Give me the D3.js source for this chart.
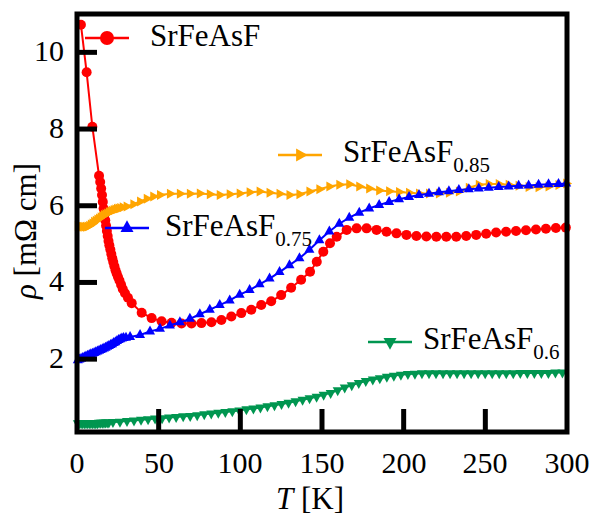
<!DOCTYPE html>
<html><head><meta charset="utf-8"><script src="https://cdn.jsdelivr.net/npm/d3@7"></script>
<style>
  body { margin: 0; background: #fff; }
  #container { position: relative; width: 595px; height: 516px; overflow: hidden; }
  #container svg { position: absolute; left: 0; top: 0; }
  .lbl { position: absolute; white-space: nowrap; font-family: "Liberation Serif"; font-size: 26px;
         line-height: 26px; color: #000; transform-origin: 0 0; }
  .lbl .sub { position: relative; line-height: 0; }
</style>
</head>
<body>
<div id="container"></div>
<script>
const width = 595, height = 516;
const margin = { left: 77, right: 28, top: 14, bottom: 84 };

// SrFeAsF (red circles)
const redT = [2.4, 5.9, 9.4, 13.5, 14.2, 14.8, 15.3, 15.8, 16.3, 16.8, 17.3, 17.8, 18.3, 18.8, 19.3, 19.8, 20.4, 21.0, 21.6, 22.2, 22.9, 23.6, 24.3, 25.1, 26.0, 27.0, 28.0, 29.4, 31.2,
  33.5, 39.6, 45.7, 51.8, 57.9, 64.0, 70.1, 76.2, 82.3, 88.4, 94.5, 100.6, 106.7, 112.8, 118.9, 125.0, 131.1, 137.2, 142.7, 146.8, 150.8, 154.9, 159.0, 165.1, 171.2, 177.3,
  183.4, 189.5, 195.6, 201.7, 207.8, 213.9, 220.0, 226.1, 232.2, 238.3, 244.4, 250.5, 256.6, 262.7, 268.8, 274.9, 281.0, 287.1, 293.2, 299.3];
const redRho = [10.72, 9.48, 8.06, 6.78, 6.62, 6.45, 6.28, 6.10, 5.93, 5.78, 5.62, 5.48, 5.34, 5.21, 5.08, 4.97, 4.86, 4.74, 4.63, 4.53, 4.42, 4.32, 4.23, 4.14, 4.05, 3.94, 3.83, 3.72, 3.60,
  3.46, 3.21, 3.07, 2.99, 2.95, 2.93, 2.93, 2.94, 2.96, 3.02, 3.11, 3.20, 3.29, 3.41, 3.51, 3.67, 3.86, 4.07, 4.28, 4.54, 4.80, 5.02, 5.19, 5.37, 5.41, 5.41,
  5.37, 5.32, 5.28, 5.24, 5.21, 5.20, 5.19, 5.19, 5.19, 5.21, 5.24, 5.27, 5.30, 5.32, 5.34, 5.36, 5.38, 5.40, 5.42, 5.43];

// SrFeAsF0.75 (blue up triangles)
const blueT = [0.5, 1.5, 2.5, 3.5, 4.5, 5.5, 6.5, 7.5, 8.5, 9.5, 10.5, 11.5, 12.5, 13.5, 14.5, 15.5, 16.5, 17.5, 18.5, 19.5, 20.5, 21.5, 22.5, 23.5, 24.5, 25.5, 26.5, 27.5, 28.5, 30, 32.5,
  38.6, 44.7, 50.8, 56.9, 63.0, 69.1, 75.2, 81.3, 87.4, 93.5, 99.6, 105.7, 111.8, 117.9, 124.0, 130.1, 136.2, 142.3, 148.4, 154.5, 160.6, 166.7, 172.8, 178.9,
  185.0, 191.1, 197.2, 203.3, 209.4, 215.5, 221.6, 227.7, 233.8, 239.9, 246.0, 252.1, 258.2, 264.3, 270.4, 276.5, 282.6, 288.7, 294.8, 299.5];
const blueRho = [1.97, 1.99, 2.01, 2.03, 2.05, 2.07, 2.09, 2.11, 2.13, 2.14, 2.16, 2.18, 2.20, 2.22, 2.24, 2.26, 2.28, 2.30, 2.32, 2.34, 2.37, 2.39, 2.42, 2.44, 2.47, 2.50, 2.52, 2.54, 2.55, 2.56, 2.58,
  2.63, 2.72, 2.79, 2.88, 2.96, 3.05, 3.17, 3.29, 3.41, 3.53, 3.68, 3.80, 3.95, 4.10, 4.27, 4.45, 4.63, 4.85, 5.10, 5.33, 5.53, 5.69, 5.82, 5.93,
  6.02, 6.10, 6.17, 6.23, 6.28, 6.31, 6.35, 6.38, 6.41, 6.43, 6.45, 6.47, 6.49, 6.50, 6.52, 6.53, 6.55, 6.56, 6.57, 6.58];

// SrFeAsF0.85 (orange right triangles)
const orangeT = [0.5, 1.5, 2.5, 3.5, 4.5, 5.5, 6.5, 7.5, 8.5, 9.5, 10.5, 11.5, 12.5, 13.5, 14.5, 15.5, 16.5, 17.5, 18.5, 19.5, 20.5, 21.5, 22.5, 23.5, 24.5, 25.5, 26.5, 28, 30.4,
  34.5, 38.6, 42.7, 46.7, 50.8, 56.9, 63.0, 69.1, 75.2, 81.3, 87.4, 93.5, 99.6, 105.7, 111.8, 117.9, 124.0, 130.1, 136.2, 142.3, 148.4, 154.5, 160.6, 166.7, 172.8, 178.9,
  185.0, 191.1, 197.2, 203.3, 209.4, 215.5, 221.6, 227.7, 233.8, 239.9, 246.0, 252.1, 258.2, 264.3, 270.4, 276.5, 282.6, 288.7, 294.8, 299.5];
const orangeRho = [5.48, 5.47, 5.46, 5.45, 5.45, 5.45, 5.46, 5.48, 5.51, 5.54, 5.58, 5.61, 5.64, 5.67, 5.70, 5.73, 5.76, 5.78, 5.80, 5.83, 5.85, 5.87, 5.89, 5.90, 5.92, 5.93, 5.94, 5.96, 5.98,
  6.04, 6.11, 6.18, 6.24, 6.28, 6.31, 6.31, 6.31, 6.32, 6.30, 6.28, 6.30, 6.32, 6.35, 6.37, 6.34, 6.31, 6.28, 6.30, 6.37, 6.43, 6.50, 6.55, 6.56, 6.50, 6.45,
  6.40, 6.38, 6.36, 6.34, 6.32, 6.32, 6.32, 6.34, 6.37, 6.47, 6.55, 6.57, 6.57, 6.55, 6.52, 6.49, 6.48, 6.50, 6.54, 6.58];

// SrFeAsF0.6 (green down triangles)
const greenT = [0.5, 1.5, 2.5, 3.5, 4.5, 5.5, 6.5, 7.5, 8.5, 9.5, 10.5, 11.5, 12.5, 13.5, 14.5, 15.5, 16.5, 17.5, 18.5, 19.5,
  22, 26.3, 30.6, 34.9, 39.2, 43.5, 47.8, 52.1, 56.4, 60.7, 65, 69.3, 73.6, 77.9, 82.2, 86.5, 90.8, 95.1, 99.4, 103.7, 108, 112.3, 116.6, 120.9, 125.2, 129.5,
  133.8, 138.1, 142.4, 146.7, 151, 155.3, 159.6, 163.9, 168.2, 172.5, 176.8, 181.1, 185.4, 189.7, 194, 198.3, 202.6, 206.9, 211.2, 215.5, 219.8, 224.1, 228.4,
  232.7, 237, 241.3, 245.6, 249.9, 254.2, 258.5, 262.8, 267.1, 271.4, 275.7, 280, 284.3, 288.6, 292.9, 297.2];
const greenRho = [0.33, 0.33, 0.33, 0.33, 0.33, 0.33, 0.33, 0.33, 0.33, 0.33, 0.33, 0.33, 0.33, 0.34, 0.34, 0.34, 0.34, 0.35, 0.35, 0.35,
  0.36, 0.37, 0.39, 0.40, 0.42, 0.43, 0.45, 0.46, 0.48, 0.49, 0.51, 0.52, 0.54, 0.56, 0.58, 0.60, 0.62, 0.64, 0.66, 0.69, 0.71, 0.74, 0.77, 0.80, 0.83, 0.86,
  0.90, 0.94, 0.98, 1.02, 1.07, 1.12, 1.19, 1.26, 1.32, 1.38, 1.43, 1.47, 1.50, 1.54, 1.57, 1.59, 1.61, 1.62, 1.63, 1.63, 1.63, 1.63, 1.63,
  1.63, 1.63, 1.63, 1.63, 1.63, 1.63, 1.63, 1.63, 1.63, 1.64, 1.64, 1.64, 1.64, 1.64, 1.65, 1.65];

const xTicks = [0, 50, 100, 150, 200, 250, 300];
const yTicks = [2, 4, 6, 8, 10];

const series = [
  { name: "SrFeAsF", sub: null, T: redT, rho: redRho, color: "#ff0000", shape: "circle", legend: [85, 38, 150, 47] },
  { name: "SrFeAsF", sub: "0.85", T: orangeT, rho: orangeRho, color: "#ffa500", shape: "right", legend: [278, 155, 343, 163] },
  { name: "SrFeAsF", sub: "0.75", T: blueT, rho: blueRho, color: "#0000ff", shape: "up", legend: [105, 228, 165, 237] },
  { name: "SrFeAsF", sub: "0.6", T: greenT, rho: greenRho, color: "#009650", shape: "down", legend: [368, 342, 423, 350] }
];

const container = d3.select("#container");
const svg = container.append("svg")
  .attr("width", width).attr("height", height);

const x = d3.scaleLinear().domain([0, 300]).range([margin.left, width - margin.right]);
const y = d3.scaleLinear().domain([0.1, 11.0]).range([height - margin.bottom, margin.top]);

// marker shapes, centred on the point
function marker(shape, s) {
  const h = s * 0.9, w = s;
  let pts;
  if (shape === "up") pts = [[0, -h * 2 / 3], [-w / 2, h / 3], [w / 2, h / 3]];
  if (shape === "down") pts = [[0, h * 2 / 3], [-w / 2, -h / 3], [w / 2, -h / 3]];
  if (shape === "right") pts = [[h * 2 / 3, 0], [-h / 3, -w / 2], [-h / 3, w / 2]];
  return "M" + pts.map(p => p.join(",")).join("L") + "Z";
}

function drawMark(g, shape, color, px, py, s) {
  if (shape === "circle") {
    g.append("circle").attr("cx", px).attr("cy", py).attr("r", s / 2).attr("fill", color);
  } else {
    g.append("path").attr("d", marker(shape, s))
      .attr("transform", `translate(${px},${py})`).attr("fill", color);
  }
}

// Text is laid out at 26px (the serif face is only picked up at that size here)
// and scaled up with a css transform. Baseline sits 21.78px below the box top.
const BASE = 26, BASELINE = 21.78;
function addLabel(html, px, py, size, anchor, rotate) {
  const s = size / BASE;
  const shift = anchor === "middle" ? " translateX(-50%)" : anchor === "end" ? " translateX(-100%)" : "";
  const div = container.append("div").attr("class", "lbl").html(html);
  if (rotate) {
    div.style("left", (px - BASELINE * s) + "px").style("top", py + "px")
      .style("transform", `rotate(-90deg) scale(${s})${shift}`);
  } else {
    div.style("left", px + "px").style("top", (py - BASELINE * s) + "px")
      .style("transform", `scale(${s})${shift}`);
  }
  return div;
}

const line = d3.line().x(d => x(d[0])).y(d => y(d[1]));
const plot = svg.append("g");

series.forEach(s => {
  const pts = s.T.map((t, i) => [t, s.rho[i]]);
  plot.append("path").datum(pts)
    .attr("d", line)
    .attr("fill", "none")
    .attr("stroke", s.color)
    .attr("stroke-width", 2);
  const mg = plot.append("g");
  pts.forEach(p => drawMark(mg, s.shape, s.color, x(p[0]), y(p[1]), 10));
});

// legends
series.forEach(s => {
  const [lx, ly, tx, ty] = s.legend;
  const g = svg.append("g");
  g.append("line").attr("x1", lx).attr("x2", lx + 44).attr("y1", ly).attr("y2", ly)
    .attr("stroke", s.color).attr("stroke-width", 2.5);
  drawMark(g, s.shape, s.color, lx + 22, ly, s.shape === "circle" ? 14 : 13);
  const k = BASE / 31;
  const sub = s.sub ? `<span class="sub" style="font-size:${(21 * k).toFixed(1)}px;top:${(10 * k).toFixed(1)}px">${s.sub}</span>` : "";
  addLabel(s.name + sub, tx, ty, 31, "start");
});

// frame
svg.append("rect")
  .attr("x", x(0)).attr("y", y(11.0))
  .attr("width", x(300) - x(0)).attr("height", y(0.1) - y(11.0))
  .attr("fill", "none").attr("stroke", "#000").attr("stroke-width", 5);

// ticks (inside)
svg.append("g").selectAll("line").data(xTicks.slice(1, -1)).join("line")
  .attr("x1", d => x(d)).attr("x2", d => x(d))
  .attr("y1", y(0.1)).attr("y2", y(0.1) - 23)
  .attr("stroke", "#000").attr("stroke-width", 5);
svg.append("g").selectAll("line").data(yTicks).join("line")
  .attr("x1", x(0)).attr("x2", x(0) + 20)
  .attr("y1", d => y(d)).attr("y2", d => y(d))
  .attr("stroke", "#000").attr("stroke-width", 5);

// tick labels
xTicks.forEach(d => addLabel(String(d), x(d), y(0.1) + 42, 30, "middle"));
yTicks.forEach(d => addLabel(String(d), x(0) - 13, y(d) + 10, 30, "end"));

// axis titles
addLabel("<i>T</i> [K]", 310, 510, 31, "middle");
addLabel("<i>ρ</i> [mΩ cm]", 37, 231, 31, "middle", true);
</script>
</body>
</html>
